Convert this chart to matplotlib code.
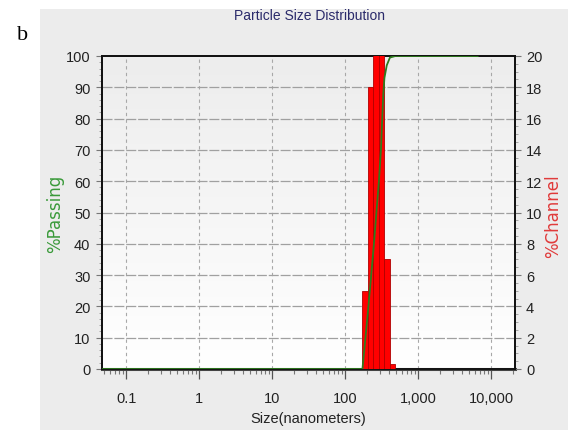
import numpy as np
import matplotlib
matplotlib.use('Agg')
import matplotlib.pyplot as plt
from matplotlib.patches import Rectangle
from matplotlib.ticker import FixedLocator, NullFormatter

# channel edges (nm) and % in channel
edges = [172, 204, 243, 289, 344, 409, 486]
channel = [5.0, 18.0, 35.0, 34.7, 7.0, 0.3]

# cumulative %passing curve
size_pass = [0.046, 172, 204, 243, 289, 308, 332, 344, 370, 409, 486, 6500]
passing = [0, 0, 18, 38, 60, 70, 88, 93, 97, 99.5, 100, 100]

xticks = [0.1, 1, 10, 100, 1000, 10000]
xticklabels = ['0.1', '1', '10', '100', '1,000', '10,000']

tickfont = ['Liberation Sans Narrow', 'Liberation Sans', 'DejaVu Sans']

fig = plt.figure(figsize=(5.68, 4.31), dpi=100)
fig.patch.set_facecolor('white')
fig.patches.append(Rectangle((40 / 568, 0), 1 - 40 / 568, 1 - 10 / 431,
                             transform=fig.transFigure, facecolor='#ECECEC',
                             edgecolor='none', zorder=-10))

ax = fig.add_axes([101.5 / 568, 1 - 370 / 431, 413.5 / 568, 313 / 431])
ax.set_xscale('log')
ax.set_xlim(0.046, 21100)
ax.set_ylim(0, 100)
ax.set_facecolor('none')

# background gradient of plot area
grad = np.linspace(0, 1, 100).reshape(-1, 1)
ax.imshow(grad, extent=[0, 1, 0, 1], transform=ax.transAxes, aspect='auto',
          cmap=matplotlib.colors.LinearSegmentedColormap.from_list('g', ['#FFFFFF', '#EDEDED']),
          origin='lower', zorder=0)

ax2 = ax.twinx()
ax2.set_ylim(0, 20)

# grid
for xt in xticks:
    ax.axvline(xt, color='#A8A8A8', linestyle=(0, (3, 3)), linewidth=0.8, zorder=1)
for yt in range(10, 100, 10):
    ax.axhline(yt, color='#A0A0A0', linestyle=(0, (8, 1.5)), linewidth=0.9, zorder=1)

# bars
left = np.array(edges[:-1])
width = np.array(edges[1:]) - left
ax2.bar(left, channel, width=width, align='edge', color='#FF0000',
        edgecolor='#B00000', linewidth=0.6, zorder=3)

# passing curve on top
ax3 = ax.twinx()
ax3.set_ylim(0, 100)
ax3.axis('off')
ax3.plot(size_pass, passing, color='#2E7D1E', linewidth=1.3, zorder=4)

ax.set_zorder(ax2.get_zorder() - 1)

# spines
for a in (ax, ax2):
    for s in a.spines.values():
        s.set_color('#111111')
        s.set_linewidth(1.3)
ax.spines['bottom'].set_color('#444444')
ax.spines['bottom'].set_linewidth(2.2)

# x ticks
ax.xaxis.set_major_locator(FixedLocator(xticks))
ax.set_xticklabels(xticklabels)
minor = [m * 10.0 ** e for e in range(-2, 5) for m in range(2, 10)]
ax.xaxis.set_minor_locator(FixedLocator(minor))
ax.xaxis.set_minor_formatter(NullFormatter())
ax.tick_params(axis='x', which='major', length=7, width=0.9, color='#555555',
               labelsize=10.5, labelcolor='#222222', pad=9)
ax.tick_params(axis='x', which='minor', length=3.5, width=0.8, color='#777777')

# y ticks
ax.set_yticks(range(0, 101, 10))
ax.set_yticks(range(0, 101, 2), minor=True)
ax.tick_params(axis='y', which='major', length=4, width=0.8, color='#777777',
               labelsize=10.5, labelcolor='#222222', pad=4)
ax.tick_params(axis='y', which='minor', length=2, width=0.6, color='#999999')
ax2.set_yticks(range(0, 21, 2))
ax2.set_yticks(np.arange(0, 20.1, 0.5), minor=True)
ax2.tick_params(axis='y', which='major', length=4, width=0.8, color='#777777',
                labelsize=10.5, labelcolor='#222222', pad=4)
ax2.tick_params(axis='y', which='minor', length=2, width=0.6, color='#999999')

for lab in ax.get_xticklabels() + ax.get_yticklabels() + ax2.get_yticklabels():
    lab.set_family(tickfont)

ax.set_xlabel('Size(nanometers)', family=tickfont, fontsize=10.5, color='#222222', labelpad=4)

fig.text(55 / 568, 1 - 214 / 431, '%Passing', rotation=90, color='#3A9A3A',
         fontsize=12, ha='center', va='center', family='DejaVu Sans')
fig.text(553 / 568, 1 - 216 / 431, '%Channel', rotation=90, color='#E03A3A',
         fontsize=12, ha='center', va='center', family='DejaVu Sans')
fig.text(310 / 568, 1 - 16 / 431, 'Particle Size Distribution', color='#2A2A6A',
         fontsize=10, ha='center', va='center', family=tickfont)
fig.text(23 / 568, 1 - 36 / 431, 'b', fontsize=16, ha='center', va='center',
         family='Liberation Serif', color='black')

fig.savefig('out.png', dpi=100)
